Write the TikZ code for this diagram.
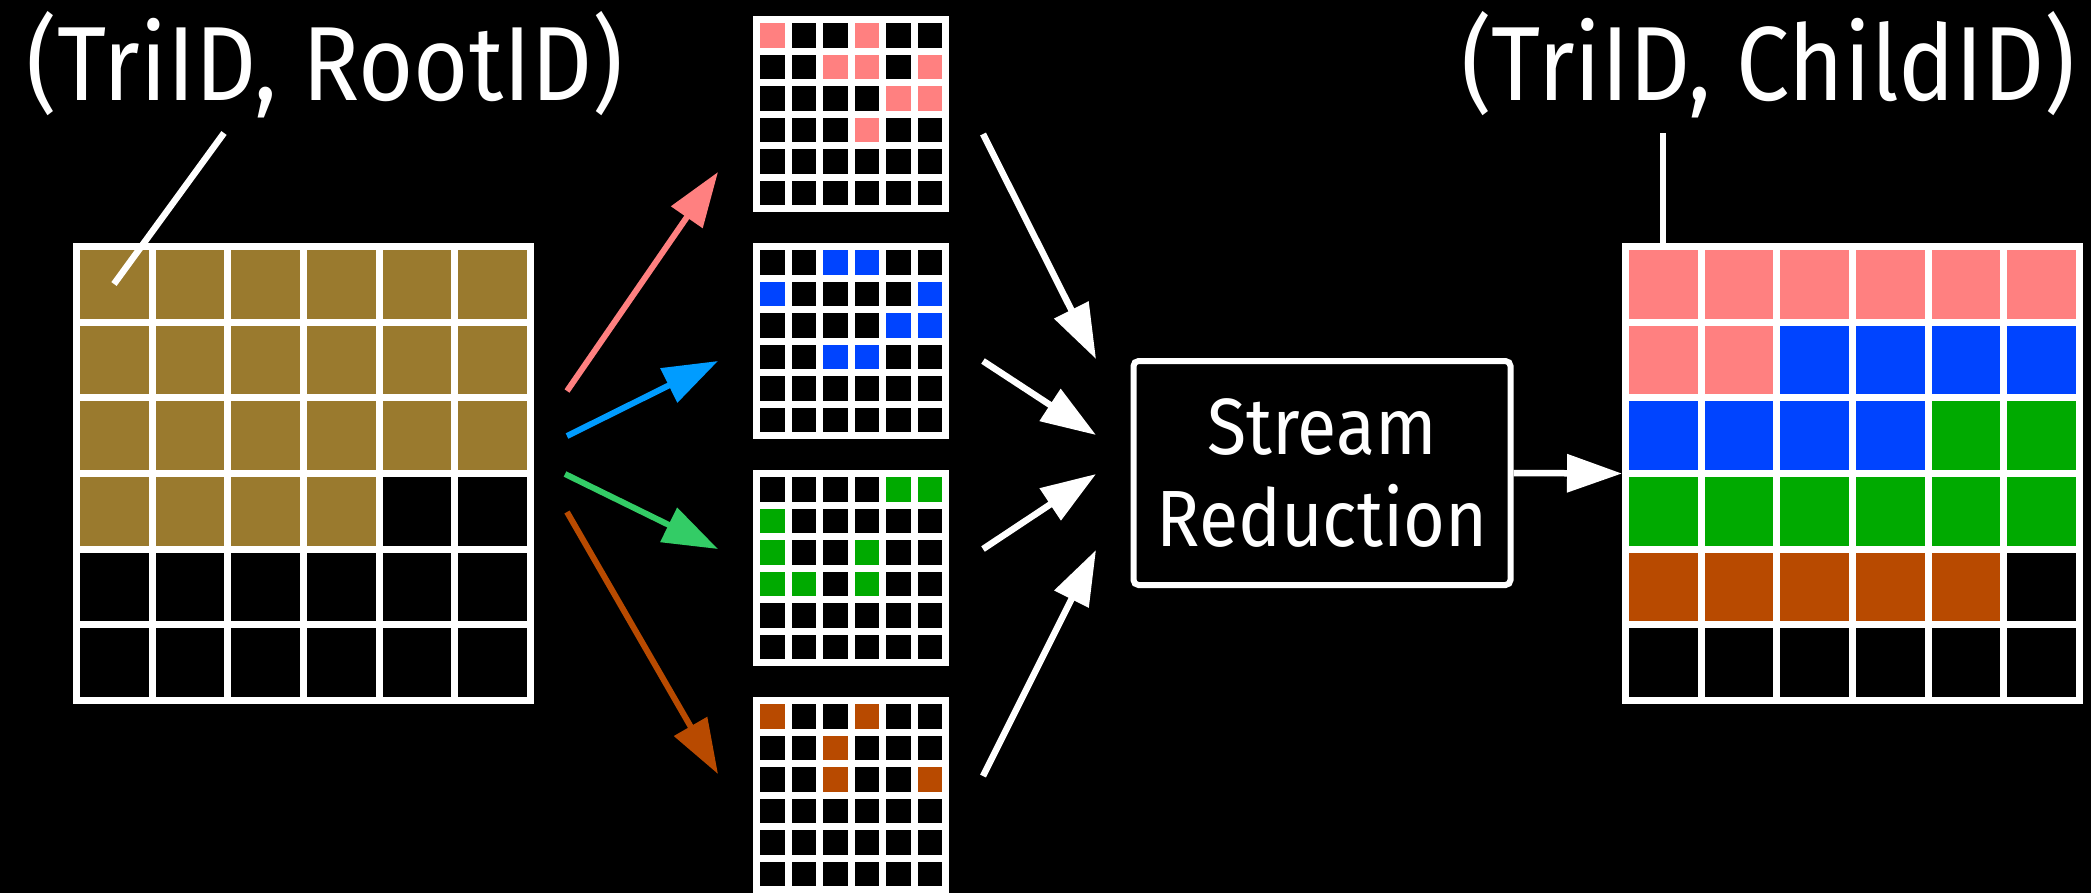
\documentclass[tikz,border=0pt]{standalone}
\usepackage{fontspec}
\newfontfamily\labelfont[FakeStretch=0.9]{Fira Sans}
\usepackage{xcolor}
\usetikzlibrary{calc, arrows.meta}

\definecolor{cellbrown}{HTML}{9A7A2E}
\definecolor{cellpink}{HTML}{FF8080}
\definecolor{cellblue}{HTML}{0044FF}
\definecolor{cellgreen}{HTML}{00AA00}
\definecolor{cellorange}{HTML}{B84A00}
\definecolor{arrowblue}{HTML}{009CFF}
\definecolor{arrowgreen}{HTML}{33CC66}

% all 36 cells of a grid node in black
\newcommand{\blankcells}[3]{%
	\foreach \cx in {0,...,5} {
		\foreach \cy in {0,...,5} {
			\fill[black] ($(#1.north west)+({#3+\cx*(#2+#3)},{#3+\cy*(#2+#3)})$) rectangle ++(#2,#2);
		}
	}
}
% colour the listed cells (column/row)
\newcommand{\paintcells}[5]{%
	\foreach \cx/\cy in {#5} {
		\fill[#4] ($(#1.north west)+({#3+\cx*(#2+#3)},{#3+\cy*(#2+#3)})$) rectangle ++(#2,#2);
	}
}

\tikzset{
	gridbox/.style={fill=white, inner sep=0pt, outer sep=0pt, anchor=north west},
	idlabel/.style={text=white, font=\labelfont\fontsize{30}{36}\selectfont, anchor=base, inner sep=0pt},
	flow/.style={line width=0.6mm, -{Triangle[length=5.5mm, width=3.7mm]}},
	leader/.style={white, line width=0.65mm},
}

\begin{document}
\begin{tikzpicture}[x=0.1mm, y=-0.1mm]
	\def\bigsize{461}
	\def\bigcell{68.67}
	\def\smallsize{196}
	\def\smallcell{24.5}
	\def\gap{7}

	\fill[black] (0,0) rectangle (2091,893);
	\useasboundingbox (0,0) rectangle (2091,893);

	% input grid
	\node[gridbox, minimum size=46.1mm] (rootgrid) at (73,243) {};
	\blankcells{rootgrid}{\bigcell}{\gap}
	\paintcells{rootgrid}{\bigcell}{\gap}{cellbrown}{0/0,1/0,2/0,3/0,4/0,5/0,0/1,1/1,2/1,3/1,4/1,5/1,0/2,1/2,2/2,3/2,4/2,5/2,0/3,1/3,2/3,3/3}

	% per-colour grids
	\node[gridbox, minimum size=19.6mm] (gridA) at (753,16) {};
	\node[gridbox, minimum size=19.6mm] (gridB) at (753,243) {};
	\node[gridbox, minimum size=19.6mm] (gridC) at (753,470) {};
	\node[gridbox, minimum size=19.6mm] (gridD) at (753,697) {};
	\blankcells{gridA}{\smallcell}{\gap}
	\blankcells{gridB}{\smallcell}{\gap}
	\blankcells{gridC}{\smallcell}{\gap}
	\blankcells{gridD}{\smallcell}{\gap}
	\paintcells{gridA}{\smallcell}{\gap}{cellpink}{0/0,3/0,2/1,3/1,5/1,4/2,5/2,3/3}
	\paintcells{gridB}{\smallcell}{\gap}{cellblue}{2/0,3/0,0/1,5/1,4/2,5/2,2/3,3/3}
	\paintcells{gridC}{\smallcell}{\gap}{cellgreen}{4/0,5/0,0/1,0/2,3/2,0/3,1/3,3/3}
	\paintcells{gridD}{\smallcell}{\gap}{cellorange}{0/0,3/0,2/1,2/2,5/2}

	% output grid
	\node[gridbox, minimum size=46.1mm] (childgrid) at (1622,243) {};
	\blankcells{childgrid}{\bigcell}{\gap}
	\paintcells{childgrid}{\bigcell}{\gap}{cellpink}{0/0,1/0,2/0,3/0,4/0,5/0,0/1,1/1}
	\paintcells{childgrid}{\bigcell}{\gap}{cellblue}{2/1,3/1,4/1,5/1,0/2,1/2,2/2,3/2}
	\paintcells{childgrid}{\bigcell}{\gap}{cellgreen}{4/2,5/2,0/3,1/3,2/3,3/3,4/3,5/3}
	\paintcells{childgrid}{\bigcell}{\gap}{cellorange}{0/4,1/4,2/4,3/4,4/4}

	\node[draw=white, line width=0.6mm, rounded corners=0.5mm, minimum width=37.7mm, minimum height=22.4mm,
		align=center, text=white, font=\labelfont\fontsize{22.7}{26.2}\selectfont] (reduce) at (1322,473) {Stream\\Reduction};

	\node[idlabel] (rootlbl) at (325,100) {(TriID, RootID)};
	\node[idlabel] (childlbl) at (1768,100) {(TriID, ChildID)};

	\coordinate (rootpin) at (224,133);
	\coordinate (childpin) at (1663,133);
	\draw[leader] (rootpin) -- ($(rootgrid.north west)+(41,41)$);
	\draw[leader] (childpin) -- (childpin |- childgrid.north);

	% split
	\coordinate (splitA) at (567,391);  \coordinate (tipA) at (718,172);
	\coordinate (splitB) at (567,436);  \coordinate (tipB) at (718,361);
	\coordinate (splitC) at (565,474);  \coordinate (tipC) at (718,549);
	\coordinate (splitD) at (567,512);  \coordinate (tipD) at (718,774);
	\draw[flow, cellpink] (splitA) -- (tipA);
	\draw[flow, arrowblue] (splitB) -- (tipB);
	\draw[flow, arrowgreen] (splitC) -- (tipC);
	\draw[flow, cellorange] (splitD) -- (tipD);

	% merge
	\coordinate (fromA) at (983,134);  \coordinate (intoA) at (1096,359);
	\coordinate (fromB) at (983,361);  \coordinate (intoB) at (1096,435);
	\coordinate (fromC) at (983,549);  \coordinate (intoC) at (1096,474);
	\coordinate (fromD) at (983,776);  \coordinate (intoD) at (1096,550);
	\begin{scope}[flow, white, line width=0.65mm]
		\draw (fromA) -- (intoA);
		\draw (fromB) -- (intoB);
		\draw (fromC) -- (intoC);
		\draw (fromD) -- (intoD);
		\draw (reduce.east) -- (childgrid.west);
	\end{scope}
\end{tikzpicture}
\end{document}
